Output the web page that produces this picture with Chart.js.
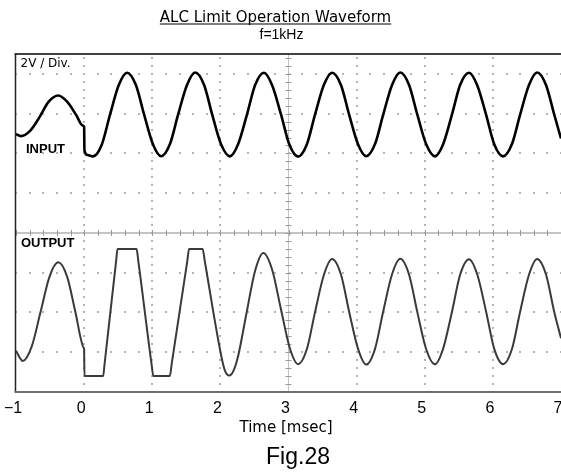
<!DOCTYPE html>
<html>
<head>
<meta charset="utf-8">
<title>ALC Limit Operation Waveform</title>
<script src="https://cdn.jsdelivr.net/npm/chart.js@4.4.0/dist/chart.umd.min.js"></script>
<style>
  html, body { margin: 0; padding: 0; background: #fff; }
  #wrap { position: relative; width: 561px; height: 475px; }
</style>
</head>
<body>
<div id="wrap"><canvas id="waveChart"></canvas></div>
<script>
// scope capture at 2 V/div and 1 ms/div, volts are measured from the centre line
const timeTicks = [-1, 0, 1, 2, 3, 4, 5, 6, 7];

const inputTime = [
  -1.00, -0.93, -0.79, -0.65, -0.52, -0.38, -0.25, -0.12, -0.02, 0.00, 0.005, 0.05,
  0.13, 0.26, 0.38, 0.51, 0.63, 0.76, 0.88, 1.01,
  1.13, 1.26, 1.38, 1.51, 1.63, 1.76, 1.88, 2.01,
  2.14, 2.26, 2.39, 2.51, 2.64, 2.76, 2.89, 3.01,
  3.14, 3.27, 3.39, 3.52, 3.64, 3.77, 3.89, 4.02,
  4.14, 4.27, 4.39, 4.52, 4.64, 4.77, 4.89, 5.02,
  5.15, 5.27, 5.40, 5.52, 5.65, 5.77, 5.90, 6.02,
  6.15, 6.28, 6.40, 6.53, 6.65, 6.78, 6.90, 7.00
];
const inputVolts = [
  4.98, 4.87, 5.15, 5.85, 6.60, 6.91, 6.60, 5.95, 5.40, 5.32, 4.14, 3.92,
  3.85, 4.45, 5.95, 7.45, 8.06, 7.44, 5.96, 4.46,
  3.86, 4.47, 5.96, 7.44, 8.07, 7.45, 5.95, 4.46,
  3.85, 4.46, 5.95, 7.44, 8.06, 7.43, 5.96, 4.47,
  3.84, 4.46, 5.96, 7.45, 8.06, 7.44, 5.95, 4.46,
  3.86, 4.47, 5.95, 7.44, 8.07, 7.44, 5.96, 4.47,
  3.85, 4.46, 5.96, 7.45, 8.06, 7.43, 5.95, 4.46,
  3.85, 4.47, 5.95, 7.44, 8.07, 7.44, 5.96, 4.75
];

const outputTime = [
  -1.00, -0.90, -0.77, -0.64, -0.51, -0.38, -0.25, -0.13, -0.006, 0.00, 0.005,
  0.28, 0.30, 0.47, 0.49, 0.77, 0.795, 0.99, 1.016,
  1.26, 1.285, 1.515, 1.54, 1.74, 1.77, 2.02, 2.07, 2.13, 2.19,
  2.26, 2.38, 2.51, 2.63, 2.76, 2.89, 3.02,
  3.14, 3.27, 3.39, 3.52, 3.64, 3.77, 3.89, 4.02,
  4.14, 4.27, 4.39, 4.52, 4.64, 4.77, 4.89, 5.02,
  5.15, 5.27, 5.40, 5.52, 5.65, 5.77, 5.90, 6.02,
  6.15, 6.28, 6.40, 6.53, 6.65, 6.78, 6.90, 7.00
];
const outputVolts = [
  -5.93, -6.44, -5.72, -3.98, -2.22, -1.48, -2.20, -3.95, -5.78, -5.86, -7.19,
  -7.19, -6.60, -1.40, -0.81, -0.81, -1.40, -6.60, -7.19,
  -7.19, -6.60, -1.40, -0.81, -0.81, -1.40, -6.30, -6.95, -7.17, -6.95,
  -6.20, -4.10, -1.90, -1.01, -1.85, -3.85, -5.80,
  -6.60, -5.84, -3.97, -2.10, -1.31, -2.09, -3.96, -5.82,
  -6.62, -5.83, -3.95, -2.08, -1.30, -2.10, -3.97, -5.84,
  -6.61, -5.82, -3.96, -2.09, -1.32, -2.08, -3.95, -5.83,
  -6.60, -5.84, -3.96, -2.10, -1.31, -2.09, -3.96, -5.30
];

const toPoints = (ts, vs) => ts.map((t, i) => ({ x: t, y: vs[i] }));

// oscilloscope graticule: dotted divisions, centre cross with minor ticks
const graticule = {
  id: 'graticule',
  beforeDatasetsDraw(chart) {
    const { ctx, chartArea: a, scales: { x, y } } = chart;
    ctx.save();
    ctx.fillStyle = '#b4b4b4';
    for (let t = 0; t <= 6; t++) {
      if (t === 3) continue;
      const px = Math.round(x.getPixelForValue(t));
      for (let i = 0; i <= 42; i++) {
        const py = Math.round(y.getPixelForValue(-8 + i * 0.4));
        if (py > a.top + 1) ctx.fillRect(px - 1, py - 1, 2, 2);
      }
    }
    for (let v = -6; v <= 8; v += 2) {
      if (v === 0) continue;
      const py = Math.round(y.getPixelForValue(v));
      for (let j = 0; j <= 40; j++) {
        const px = Math.round(x.getPixelForValue(-1 + j * 0.2));
        ctx.fillRect(px - 1, py - 1, 2, 2);
      }
    }
    const cx = x.getPixelForValue(3);
    const cy = y.getPixelForValue(0);
    ctx.strokeStyle = '#b0b0b0';
    ctx.lineWidth = 1.5;
    ctx.beginPath();
    ctx.moveTo(a.left, cy);
    ctx.lineTo(a.right, cy);
    ctx.stroke();
    ctx.lineWidth = 1;
    ctx.strokeStyle = '#c4c4c4';
    ctx.beginPath();
    ctx.moveTo(cx, a.top);
    ctx.lineTo(cx, a.bottom);
    ctx.stroke();
    ctx.strokeStyle = '#999';
    ctx.beginPath();
    for (let j = 0; j <= 40; j++) {
      const px = Math.round(x.getPixelForValue(-1 + j * 0.2)) + 0.5;
      ctx.moveTo(px, cy - 3);
      ctx.lineTo(px, cy + 3);
    }
    for (let i = 0; i <= 42; i++) {
      const py = Math.round(y.getPixelForValue(-8 + i * 0.4)) + 0.5;
      ctx.moveTo(cx - 3, py);
      ctx.lineTo(cx + 3, py);
    }
    ctx.stroke();
    ctx.restore();
  },
  afterDatasetsDraw(chart) {
    const { ctx, chartArea: a } = chart;
    ctx.save();
    ctx.lineWidth = 1.5;
    ctx.strokeStyle = '#000';
    ctx.beginPath();
    ctx.moveTo(a.left - 1.5, a.top);
    ctx.lineTo(a.right, a.top);
    ctx.stroke();
    ctx.strokeStyle = '#222';
    ctx.beginPath();
    ctx.moveTo(a.left - 0.5, a.top);
    ctx.lineTo(a.left - 0.5, a.bottom);
    ctx.stroke();
    ctx.lineWidth = 2;
    ctx.strokeStyle = '#6e6e6e';
    ctx.beginPath();
    ctx.moveTo(a.left - 1.5, a.bottom);
    ctx.lineTo(a.right, a.bottom);
    ctx.stroke();
    ctx.restore();
  }
};

// title, channel labels and captions
const captions = {
  id: 'captions',
  afterDraw(chart) {
    const { ctx } = chart;
    ctx.save();
    ctx.fillStyle = '#000';
    ctx.textBaseline = 'alphabetic';

    ctx.font = '15px "DejaVu Sans"';
    ctx.textAlign = 'center';
    const title = 'ALC Limit Operation Waveform';
    ctx.fillText(title, 275.5, 22);
    const w = ctx.measureText(title).width;
    ctx.fillRect(275.5 - w / 2, 23.5, w, 1);

    ctx.font = '14px "Liberation Sans"';
    ctx.fillText('f=1kHz', 281.5, 39);

    ctx.font = '15px "DejaVu Sans"';
    ctx.fillText('Time [msec]', 286, 432);

    ctx.font = '23px "Liberation Sans"';
    ctx.fillText('Fig.28', 298, 464);

    ctx.textAlign = 'left';
    ctx.font = '12px "DejaVu Sans"';
    ctx.fillText('2V / Div.', 20.5, 67);

    ctx.font = 'bold 13px "Liberation Sans"';
    ctx.fillText('INPUT', 26, 153);
    ctx.fillText('OUTPUT', 21, 247);
    ctx.restore();
  }
};

const ctx = document.getElementById('waveChart').getContext('2d');
new Chart(ctx, {
  type: 'line',
  data: {
    datasets: [{
      label: 'INPUT',
      data: toPoints(inputTime, inputVolts),
      borderColor: '#000',
      borderWidth: 2.6,
      pointRadius: 0,
      cubicInterpolationMode: 'monotone'
    }, {
      label: 'OUTPUT',
      data: toPoints(outputTime, outputVolts),
      borderColor: '#3a3a3a',
      borderWidth: 2,
      pointRadius: 0,
      cubicInterpolationMode: 'monotone'
    }]
  },
  options: {
    responsive: true,
    maintainAspectRatio: false,
    animation: false,
    layout: { padding: { top: 54, left: 16, right: 0, bottom: 0 } },
    plugins: {
      legend: { display: false },
      title: { display: false },
      tooltip: { enabled: false }
    },
    scales: {
      x: {
        type: 'linear',
        min: -1,
        max: 7,
        grid: { display: false, drawTicks: false },
        border: { display: false },
        afterBuildTicks: (s) => { s.ticks = timeTicks.map(v => ({ value: v })); },
        afterFit: (s) => { s.paddingLeft = 0; s.paddingRight = 0; s.height = 83; },
        ticks: {
          color: '#000',
          padding: 7,
          labelOffset: -3,
          maxRotation: 0,
          font: { family: 'Liberation Sans', size: 16 },
          callback: (v) => (v < 0 ? '\u2212' + Math.abs(v) : String(v))
        }
      },
      y: {
        display: false,
        min: -8,
        max: 9
      }
    }
  },
  plugins: [graticule, captions]
});
</script>
</body>
</html>
